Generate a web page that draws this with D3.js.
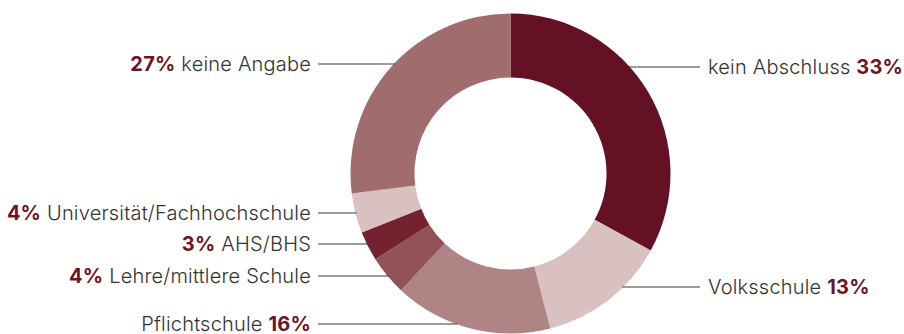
<!DOCTYPE html>
<html>
<head>
<meta charset="utf-8">
<script src="https://cdn.jsdelivr.net/npm/d3@7"></script>
<style>
  html, body { margin: 0; padding: 0; background: #fff; }
  svg { display: block; }
  .lbl { font-family: Inter, Roboto, "Liberation Sans", sans-serif; font-size: 20px; font-weight: 300; letter-spacing: 0.2px; fill: #333; }
  .pct { font-weight: 700; fill: #6d1427; }
</style>
</head>
<body>
<svg id="chart" width="904" height="334"></svg>
<script>
// Education categories, clockwise from 12 o'clock
const categories = [
  "kein Abschluss",
  "Volksschule",
  "Pflichtschule",
  "Lehre/mittlere Schule",
  "AHS/BHS",
  "Universität/Fachhochschule",
  "keine Angabe"
];
const shares = [33, 13, 16, 4, 3, 4, 27];
const sliceColors = ["#651125", "#d9c0c1", "#b08385", "#925358", "#74222f", "#d9c0c1", "#a16c6e"];

// Label layout: side, leader y, whether the percent comes first
const labelSide = ["right", "right", "left", "left", "left", "left", "left"];
const labelY = [67, 287, 324, 276, 244, 213, 64];
const pctFirst = [false, false, false, true, true, true, true];

const width = 904, height = 334;
const cx = 510.5, cy = 173.5;
const outerR = 160, innerR = 96;
const leftTextX = 311, leftLineX = 318;
const rightTextX = 708, rightLineX = 700;

const svg = d3.select("#chart");

const data = categories.map((c, i) => ({ name: c, value: shares[i], i }));

const pie = d3.pie().sort(null).value(d => d.value);
const arc = d3.arc().innerRadius(innerR).outerRadius(outerR);

const g = svg.append("g").attr("transform", `translate(${cx},${cy})`);

// Leader lines: from the label to the outer rim at the same height
const lines = svg.append("g");
data.forEach((d, i) => {
  const y = labelY[i];
  const dy = y - cy;
  const dx = Math.sqrt(Math.max(0, outerR * outerR - dy * dy));
  const rimX = labelSide[i] === "right" ? cx + dx - 1 : cx - dx + 1;
  const startX = labelSide[i] === "right" ? rightLineX : leftLineX;
  lines.append("line")
    .attr("x1", startX).attr("x2", rimX)
    .attr("y1", y).attr("y2", y)
    .attr("stroke", "#3a3a3a")
    .attr("stroke-width", 1.2);
});

// Donut slices
g.selectAll("path")
  .data(pie(data))
  .join("path")
  .attr("d", arc)
  .attr("fill", d => sliceColors[d.data.i]);

// Labels
const labels = svg.append("g");
data.forEach((d, i) => {
  const right = labelSide[i] === "right";
  const t = labels.append("text")
    .attr("class", "lbl")
    .attr("x", right ? rightTextX : leftTextX)
    .attr("y", labelY[i])
    .attr("dy", "0.37em")
    .attr("text-anchor", right ? "start" : "end");
  const pctText = d.value + "%";
  if (pctFirst[i]) {
    t.append("tspan").attr("class", "pct").text(pctText);
    t.append("tspan").text(" " + d.name);
  } else {
    t.append("tspan").text(d.name + " ");
    t.append("tspan").attr("class", "pct").text(pctText);
  }
});
</script>
</body>
</html>
